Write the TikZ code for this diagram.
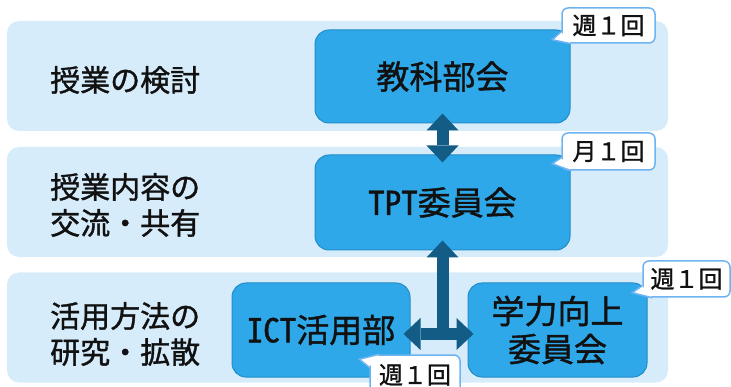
\documentclass[tikz,border=0pt]{standalone}
\usepackage{fontspec}
\setmainfont{Noto Sans CJK JP}[FakeBold=1.2]
\usetikzlibrary{arrows.meta,calc}
\definecolor{bandc}{RGB}{214,236,250}
\definecolor{nodec}{RGB}{46,168,232}
\definecolor{nodeb}{RGB}{34,140,200}
\definecolor{arrc}{RGB}{18,92,134}
\definecolor{callb}{RGB}{110,180,240}
\definecolor{txt}{RGB}{17,17,17}
\newcommand\hw[1]{{\addfontfeature{RawFeature=+hwid}#1}}
\tikzset{
  band/.style={draw=none, fill=bandc, rounded corners=12pt, inner sep=0pt, minimum width=661pt, minimum height=110pt},
  unit/.style={draw=nodeb, line width=1pt, fill=nodec, rounded corners=14pt, inner sep=0pt, align=center, font=\fontsize{33}{38}\selectfont, text=txt},
  lbl/.style={anchor=west, align=left, inner sep=0pt, font=\fontsize{30}{36}\selectfont, text=txt},
  callbox/.style={draw=callb, line width=1.5pt, fill=white, rounded corners=6pt, inner sep=0pt, font=\fontsize{24}{28}\selectfont, text=txt},
  callline/.style={draw=callb, line width=1.5pt, line join=miter},
  bigarrow/.style={draw=arrc, line width=12pt, {Triangle[width=32pt,length=17pt,line width=0pt]}-{Triangle[width=32pt,length=17pt,line width=0pt]}},
}
\begin{document}
\begin{tikzpicture}[x=1pt,y=-1pt]
\useasboundingbox (0,0) rectangle (731,387);
% bands
\node[band] (b1) at (337.5,76) {};
\node[band] (b2) at (337.5,202) {};
\node[band] (b3) at (337.5,327.5) {};
% labels
\node[lbl] (l1) at (50,80) {授業の検討};
\node[lbl] (l2) at (50,205) {授業内容の\\交流・共有};
\node[lbl] (l3) at (50,334) {活用方法の\\研究・拡散};
% units
\node[unit, minimum width=255pt, minimum height=93pt] (kyoka) at (442.5,76.5) {教科部会};
\node[unit, minimum width=255pt, minimum height=95pt] (tpt) at (442.5,202.5) {\hw{TPT}委員会};
\node[unit, minimum width=178pt, minimum height=94pt] (ict) at (321,330) {\hw{ICT}活用部};
\node[unit, minimum width=179pt, minimum height=94pt] (gaku) at (557.5,330) {学力向上\\委員会};
% arrows
\draw[bigarrow] ([yshift=10pt]kyoka.south) -- ([yshift=-8pt]tpt.north);
\coordinate (j) at ([yshift=-4pt]tpt.south |- ict.east);
\draw[draw=arrc, line width=12pt, {Triangle[width=32pt,length=17pt,line width=0pt]}-] ([yshift=10pt]tpt.south) -- (j);
\draw[bigarrow] ([xshift=-7pt]ict.east |- j) -- ([xshift=6pt]gaku.west |- j);
% callouts
\node[callbox, minimum width=93pt, minimum height=35pt] (c1) at (608.5,25.5) {週１回};
\fill[white] ($(c1.south west)+(0,-12)$) -- ($(c1.south west)+(-9,-4)$) -- ($(c1.south west)+(10,0)$) -- ($(c1.south west)+(5,-5)$) -- cycle;
\draw[callline] ($(c1.south west)+(0,-12)$) -- ($(c1.south west)+(-9,-4)$) -- ($(c1.south west)+(10,0)$);

\node[callbox, minimum width=93pt, minimum height=37pt] (c2) at (608.5,151.5) {月１回};
\fill[white] ($(c2.south west)+(0,-13)$) -- ($(c2.south west)+(-9,-7)$) -- ($(c2.south west)+(10,0)$) -- ($(c2.south west)+(5,-5)$) -- cycle;
\draw[callline] ($(c2.south west)+(0,-13)$) -- ($(c2.south west)+(-9,-7)$) -- ($(c2.south west)+(10,0)$);

\node[callbox, minimum width=87pt, minimum height=36pt] (c3) at (686.5,279) {週１回};
\fill[white] ($(c3.south west)+(0,-12)$) -- ($(c3.south west)+(-10,-5)$) -- ($(c3.south west)+(10,0)$) -- ($(c3.south west)+(5,-5)$) -- cycle;
\draw[callline] ($(c3.south west)+(0,-12)$) -- ($(c3.south west)+(-10,-5)$) -- ($(c3.south west)+(10,0)$);

\node[callbox, minimum width=90pt, minimum height=40pt] (c4) at (415,375) {週１回};
\fill[white] ($(c4.north west)+(0,13)$) -- ($(c4.north west)+(-10,5)$) -- ($(c4.north west)+(10,0)$) -- ($(c4.north west)+(5,5)$) -- cycle;
\draw[callline] ($(c4.north west)+(0,13)$) -- ($(c4.north west)+(-10,5)$) -- ($(c4.north west)+(10,0)$);
\end{tikzpicture}
\end{document}
